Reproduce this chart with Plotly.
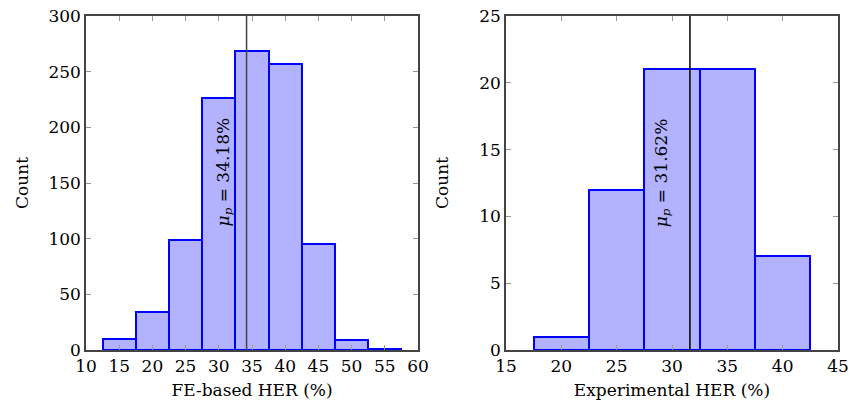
import plotly.graph_objects as go

fe_bins = [15, 20, 25, 30, 35, 40, 45, 50, 55]
fe_counts = [10, 34, 99, 226, 269, 257, 95, 9, 1]
fe_mean = 34.18

exp_bins = [20, 25, 30, 35, 40]
exp_counts = [1, 12, 21, 21, 7]
exp_mean = 31.62

bin_width = 5
fill = "rgba(0,0,255,0.3)"
edge = "#0000ff"
font = "DejaVu Serif"
fsize = 17

fig = go.Figure()
fig.add_trace(go.Bar(x=fe_bins, y=fe_counts, width=bin_width,
                     marker=dict(color=fill, line=dict(color=edge, width=2)),
                     xaxis="x", yaxis="y", showlegend=False))
fig.add_trace(go.Bar(x=exp_bins, y=exp_counts, width=bin_width,
                     marker=dict(color=fill, line=dict(color=edge, width=2)),
                     xaxis="x2", yaxis="y2", showlegend=False))

fig.add_shape(type="line", xref="x", yref="paper", x0=fe_mean, x1=fe_mean, y0=0, y1=1,
              line=dict(color="#444444", width=1.5))
fig.add_shape(type="line", xref="x2", yref="paper", x0=exp_mean, x1=exp_mean, y0=0, y1=1,
              line=dict(color="black", width=1.5))

fig.add_annotation(x=fe_mean, y=160, xref="x", yref="y", xshift=-22,
                   text="<i>μ<sub>p</sub></i> = 34.18%", textangle=-90, showarrow=False,
                   font=dict(family=font, size=fsize, color="black"))
fig.add_annotation(x=exp_mean, y=13.3, xref="x2", yref="y2", xshift=-28,
                   text="<i>μ<sub>p</sub></i> = 31.62%", textangle=-90, showarrow=False,
                   font=dict(family=font, size=fsize, color="black"))

axis_common = dict(showline=True, mirror="ticks", linecolor="#444444", linewidth=1.5,
                   ticks="inside", ticklen=5, tickcolor="#999999", showgrid=False, zeroline=False,
                   automargin=False,
                   tickfont=dict(family=font, size=fsize, color="black"))
title_font = dict(family=font, size=fsize, color="black")

fig.update_layout(
    width=850, height=409,
    margin=dict(l=0, r=0, t=16, b=59),
    plot_bgcolor="white", paper_bgcolor="white",
    bargap=0,
    font=dict(family=font),
    xaxis=dict(domain=[86/850, 418/850], range=[10, 60], dtick=5, anchor="y",
               title=dict(text="FE-based HER (%)", font=title_font, standoff=9),
               **axis_common),
    yaxis=dict(range=[0, 300], dtick=50, anchor="x",
               title=dict(text="Count", font=title_font, standoff=15),
               **axis_common),
    xaxis2=dict(domain=[506/850, 838/850], range=[15, 45], dtick=5, anchor="y2",
                title=dict(text="Experimental HER (%)", font=title_font, standoff=9),
                **axis_common),
    yaxis2=dict(range=[0, 25], dtick=5, anchor="x2",
                title=dict(text="Count", font=title_font, standoff=26),
                **axis_common),
)

fig.write_html("out.html")
